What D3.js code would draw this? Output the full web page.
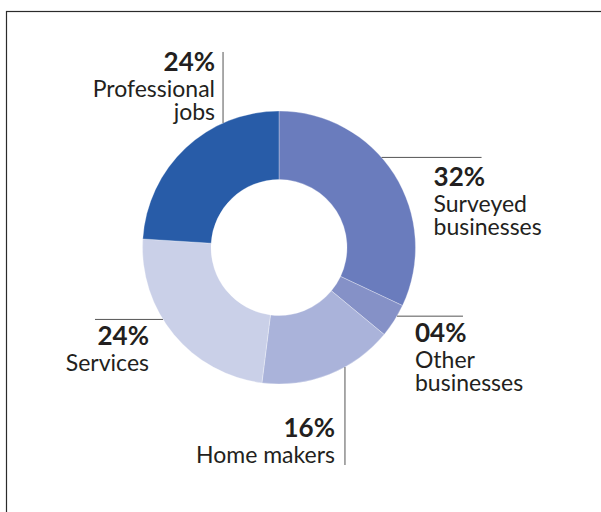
<!DOCTYPE html>
<html>
<head>
<meta charset="utf-8">
<script src="https://cdn.jsdelivr.net/npm/d3@7"></script>
<style>
  html, body { margin: 0; padding: 0; background: #fff; }
  svg { display: block; }
</style>
</head>
<body>
<svg id="chart" width="601" height="512"></svg>
<script>
// Share of respondents by occupation (percent), clockwise from 12 o'clock
const categories = ["Surveyed businesses", "Other businesses", "Home makers", "Services", "Professional jobs"];
const values = [32, 4, 16, 24, 24];
const labelLines = [
  ["Surveyed", "businesses"],
  ["Other", "businesses"],
  ["Home makers"],
  ["Services"],
  ["Professional", "jobs"]
];
const colors = ["#6a7cbd", "#8591c7", "#aab3da", "#cad0e8", "#285ca8"];

const W = 601, H = 512;
const cx = 279, cy = 247.5, rOuter = 136.5, rInner = 68;
const lineStep = 24.5;

// Callout layout: where each leader touches the ring (degrees clockwise from top),
// which way it runs and how far, and the offset of the percentage baseline.
const leaders = [
  { angle: 48.7,  dir: "right", len: 100, tx: 52,  ty: 29,  anchor: "start" },
  { angle: 120.2, dir: "right", len: 66,  tx: 18,  ty: 26,  anchor: "start" },
  { angle: 151.1, dir: "down",  len: 98,  tx: -10, ty: -28, anchor: "end" },
  { angle: 238.2, dir: "left",  len: 68,  tx: 54,  ty: 26,  anchor: "end" },
  { angle: 335.8, dir: "up",    len: 71,  tx: -8,  ty: 19,  anchor: "end" }
];

const svg = d3.select("#chart");

// Frame
svg.append("rect")
  .attr("x", 6.5).attr("y", 11.5)
  .attr("width", W + 20).attr("height", H + 20)
  .attr("fill", "none").attr("stroke", "#2b2b2b").attr("stroke-width", 1.2);

const data = categories.map((c, i) => ({ name: c, value: values[i], lines: labelLines[i], color: colors[i], leader: leaders[i] }));

const pie = d3.pie().value(d => d.value).sort(null);
const arc = d3.arc().innerRadius(rInner).outerRadius(rOuter);

const g = svg.append("g").attr("transform", `translate(${cx},${cy})`);
g.selectAll("path.slice")
  .data(pie(data))
  .join("path")
  .attr("class", "slice")
  .attr("d", arc)
  .attr("fill", d => d.data.color)
  .attr("stroke", "#ffffff")
  .attr("stroke-opacity", 0.5)
  .attr("stroke-width", 0.6);

const fmt = v => d3.format("02d")(v) + "%";
const rad = a => a * Math.PI / 180;

data.forEach(d => {
  const L = d.leader;
  const x0 = rOuter * Math.sin(rad(L.angle));
  const y0 = -rOuter * Math.cos(rad(L.angle));
  let x1 = x0, y1 = y0;
  if (L.dir === "right") x1 = x0 + L.len;
  if (L.dir === "left") x1 = x0 - L.len;
  if (L.dir === "up") y1 = y0 - L.len;
  if (L.dir === "down") y1 = y0 + L.len;

  g.append("line")
    .attr("x1", x0).attr("y1", y0).attr("x2", x1).attr("y2", y1)
    .attr("stroke", "#555").attr("stroke-width", 1);

  // rightward callouts hang off the ring point; the others off the leader's far end
  const ox = (L.dir === "right" ? x0 : x1) + L.tx;
  const oy = (L.dir === "right" ? y0 : y1) + L.ty;

  const t = g.append("text")
    .attr("text-anchor", L.anchor)
    .attr("fill", "#231f20")
    .style("font-family", "Lato, 'Noto Sans', sans-serif");
  t.append("tspan")
    .attr("x", ox).attr("y", oy)
    .style("font-weight", 700).style("font-size", "26px")
    .text(fmt(d.value));
  d.lines.forEach((ln, k) => {
    t.append("tspan")
      .attr("x", ox).attr("y", oy + lineStep * (k + 1) + (k === 0 ? 1 : 0))
      .style("font-weight", 400).style("font-size", "23px")
      .text(ln);
  });
});
</script>
</body>
</html>
